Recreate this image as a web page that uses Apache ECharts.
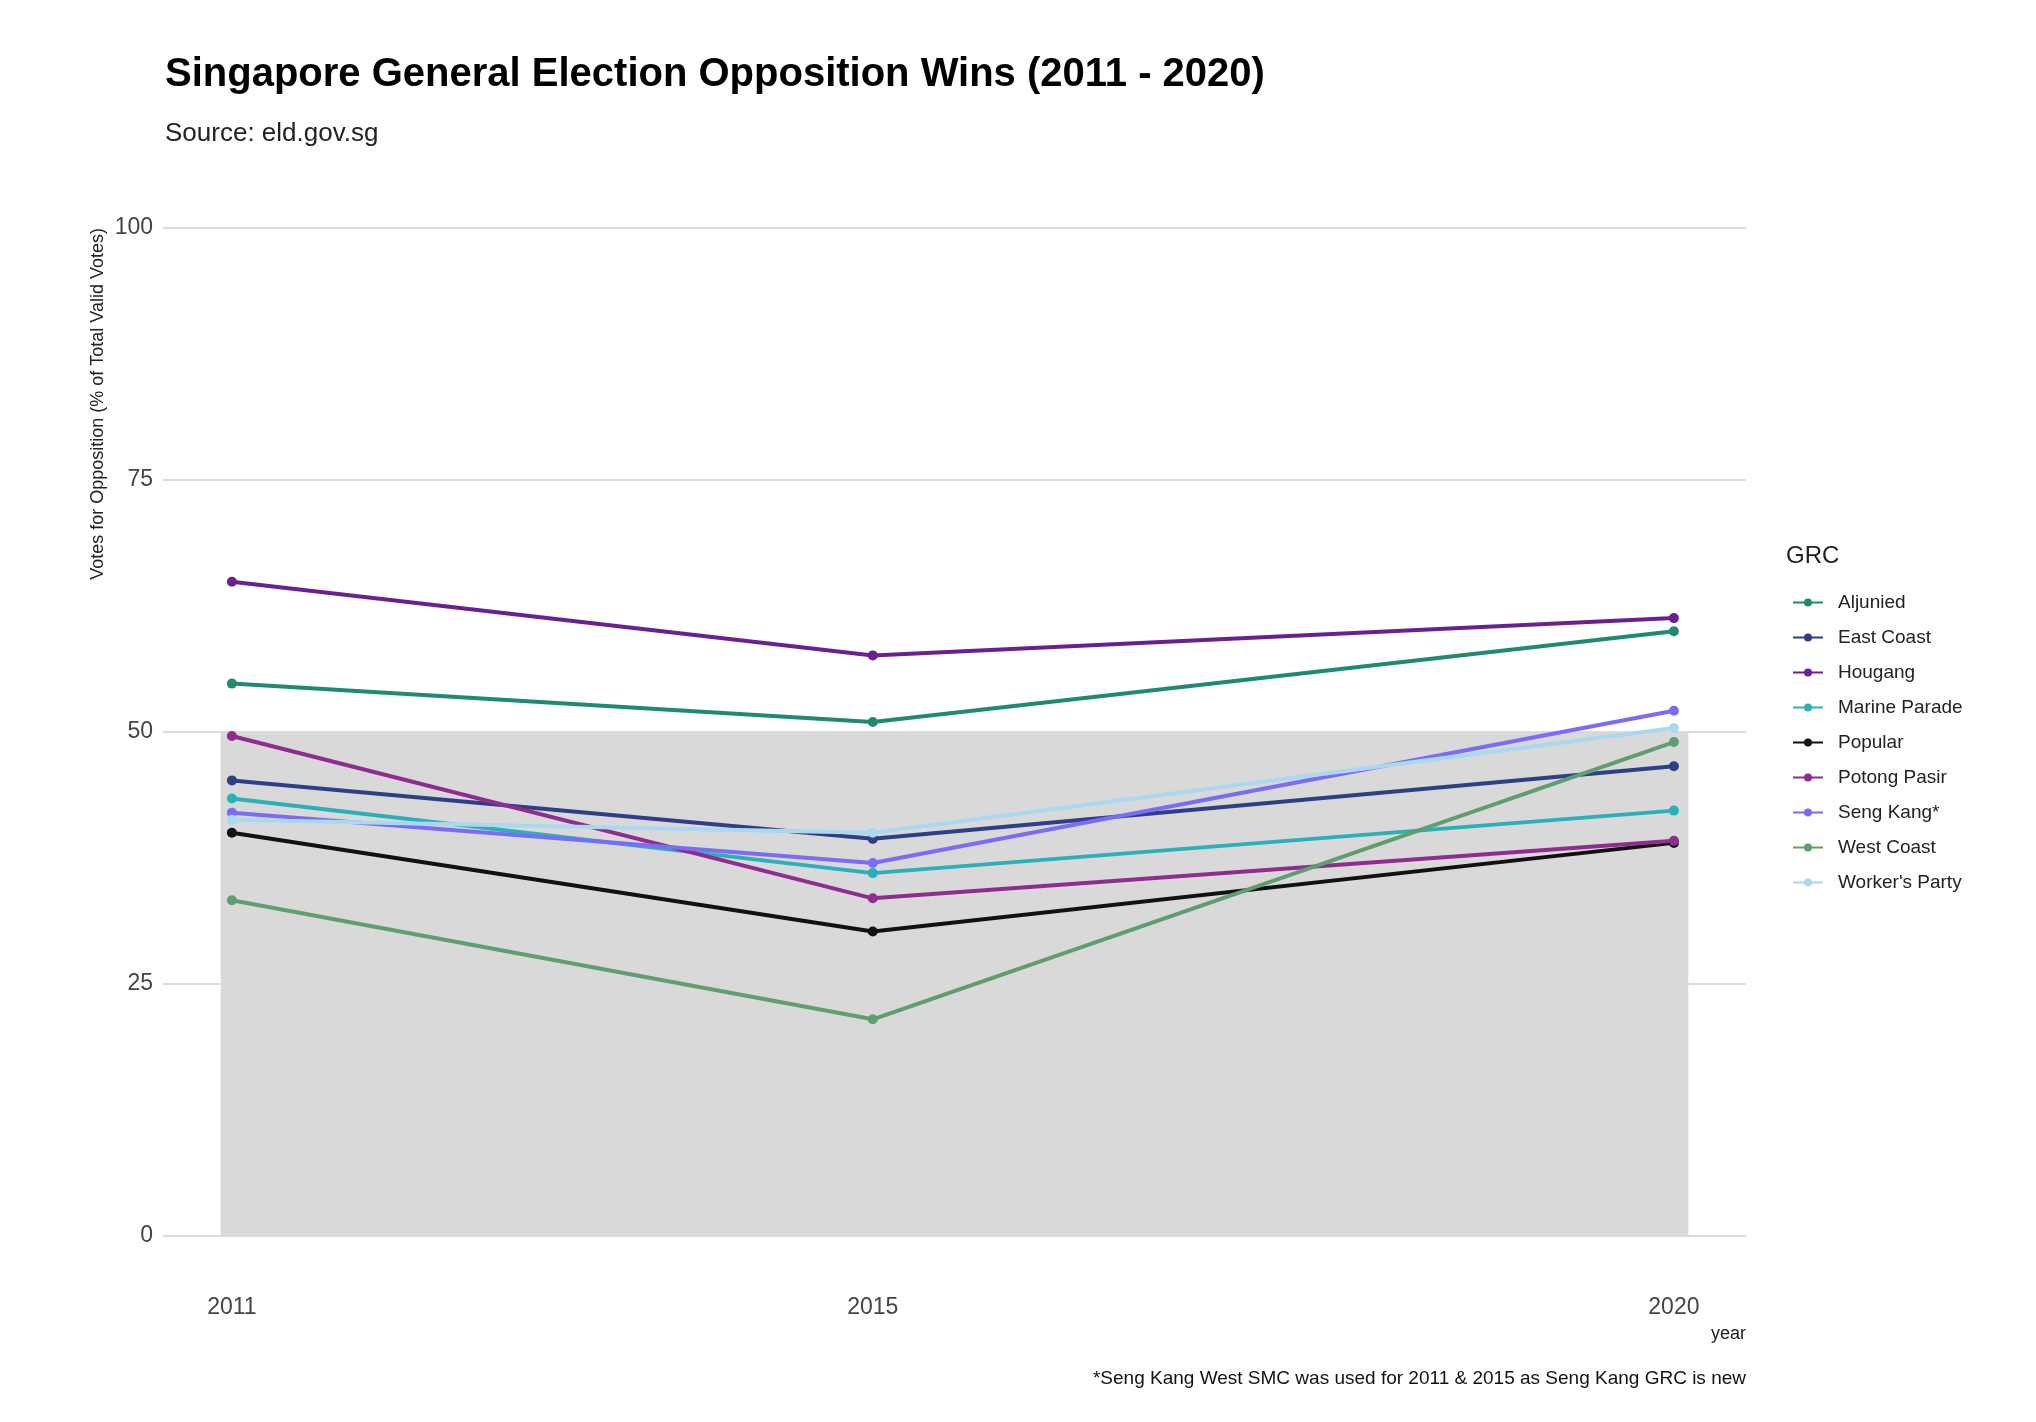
<!DOCTYPE html>
<html><head><meta charset="utf-8">
<script src="https://cdn.jsdelivr.net/npm/echarts@6/dist/echarts.min.js"></script>
<style>html,body{margin:0;padding:0;background:#fff}#c{width:2036px;height:1422px}</style>
</head><body><div id="c"></div>
<script>
const years = [2011, 2015, 2020]
const grcNames = ['Aljunied', 'East Coast', 'Hougang', 'Marine Parade', 'Popular', 'Potong Pasir', 'Seng Kang*', 'West Coast', "Worker's Party"]
const aljunied = [54.8, 51.0, 60.0]
const eastCoast = [45.2, 39.4, 46.6]
const hougang = [64.9, 57.6, 61.3]
const marineParade = [43.4, 36.0, 42.2]
const popular = [40.0, 30.2, 39.0]
const potongPasir = [49.6, 33.5, 39.2]
const sengKang = [42.0, 37.0, 52.1]
const westCoast = [33.3, 21.5, 49.0]
const workersParty = [41.3, 40.0, 50.4]
const yTicks = [0, 25, 50, 75, 100]

const values = [aljunied, eastCoast, hougang, marineParade, popular, potongPasir, sengKang, westCoast, workersParty]
const colors = ['#1f8a70', '#2e3f86', '#6a2190', '#2bb0b8', '#111111', '#8e2d8e', '#7b6cf6', '#5f9e6e', '#a9d8f0']
const font = 'Liberation Sans'

const chart = echarts.init(document.getElementById('c'))
const series = grcNames.map((name, i) => ({
  name, type: 'line', data: years.map((y, j) => [y, values[i][j]]),
  symbol: 'circle', symbolSize: 10, lineStyle: { width: 4, color: colors[i] },
  itemStyle: { color: colors[i] }, z: 3
}))
series[0].markArea = {
  silent: true, itemStyle: { color: '#d9d9d9' },
  data: [[{ xAxis: 2010.93, yAxis: 0 }, { xAxis: 2020.09, yAxis: 50 }]]
}
chart.setOption({
  animation: false,
  title: [
    { text: 'Singapore General Election Opposition Wins (2011 - 2020)', left: 160, top: 50,
      textStyle: { fontFamily: font, fontSize: 40, fontWeight: 'bold', color: '#000' } },
    { text: 'Source: eld.gov.sg', left: 160, top: 116,
      textStyle: { fontFamily: font, fontSize: 26, fontWeight: 'normal', color: '#222' } }
  ],
  graphic: [
    { type: 'text', right: 290, top: 1325, style: { text: 'year', fontFamily: font, fontSize: 18, fill: '#222' } },
    { type: 'text', right: 290, top: 1369, style: { text: '*Seng Kang West SMC was used for 2011 & 2015 as Seng Kang GRC is new', fontFamily: font, fontSize: 19, fill: '#111' } },
    { type: 'text', left: 1786, top: 544, style: { text: 'GRC', fontFamily: font, fontSize: 24, fill: '#222' } }
  ],
  legend: {
    orient: 'vertical', left: 1788, top: 588, itemGap: 16, itemWidth: 30, itemHeight: 12,
    icon: 'path://M0,5L30,5L30,7L0,7Z M15,2A4,4 0 1,1 14.99,2Z',
    textStyle: { fontFamily: font, fontSize: 19, color: '#222', padding: [0, 0, 0, 10] },
    data: grcNames
  },
  grid: { left: 163, right: 290, top: 228, bottom: 186 },
  xAxis: {
    type: 'value', min: 2010.57, max: 2020.45,
    axisLine: { show: false }, axisTick: { show: false }, splitLine: { show: false },
    axisLabel: { customValues: years, formatter: v => String(v), margin: 60, fontFamily: font, fontSize: 23, color: '#444' }
  },
  yAxis: {
    type: 'value', min: 0, max: 100, interval: 25,
    name: 'Votes for Opposition (% of Total Valid Votes)', nameLocation: 'end',
    nameRotate: 90, nameGap: 0,
    nameTextStyle: { fontFamily: font, fontSize: 18, color: '#222', align: 'right', verticalAlign: 'bottom', padding: [0, 0, 56, 0] },
    axisLine: { show: false }, axisTick: { show: false },
    splitLine: { lineStyle: { color: '#cfcfcf', width: 1.5 } },
    axisLabel: { customValues: yTicks, margin: 10, fontFamily: font, fontSize: 23, color: '#444' }
  },
  series
})
</script></body></html>
